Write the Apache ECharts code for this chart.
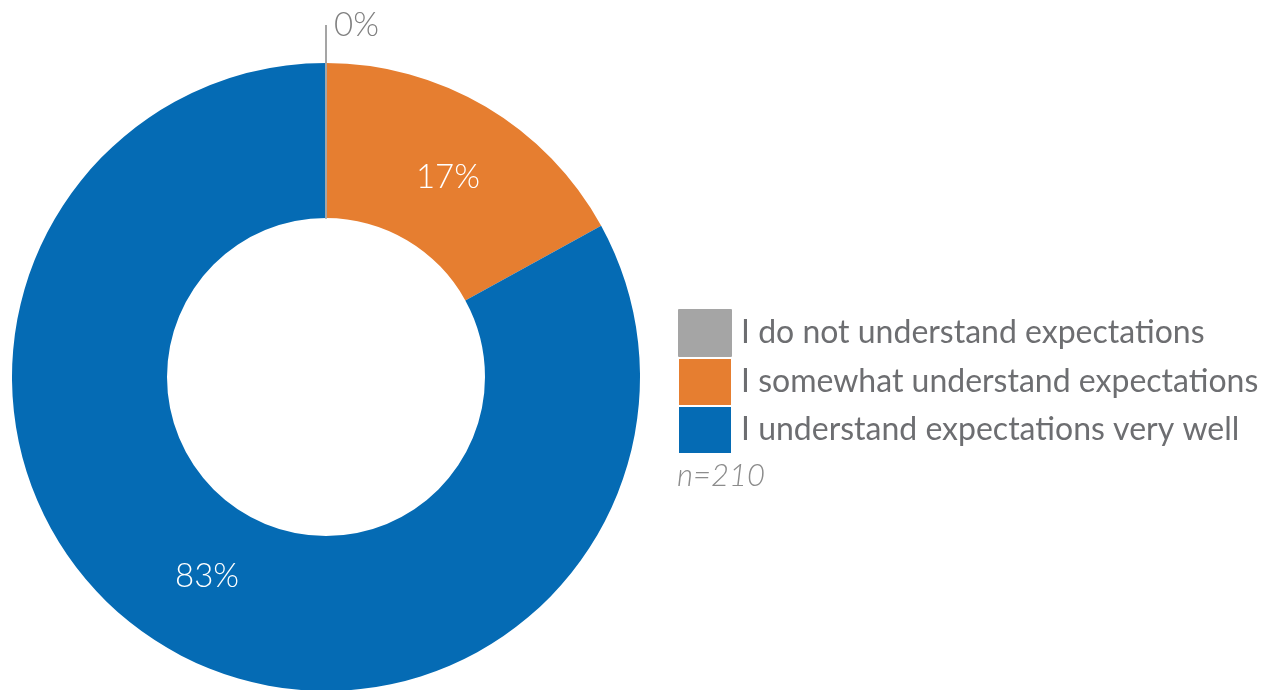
<!DOCTYPE html>
<html>
<head>
<meta charset="utf-8">
<script src="https://cdn.jsdelivr.net/npm/echarts@6/dist/echarts.min.js"></script>
<style>
html,body{margin:0;padding:0;background:#fff;}
#chart{width:1270px;height:690px;}
</style>
</head>
<body>
<div id="chart"></div>
<script>
var categories = ['I do not understand expectations', 'I somewhat understand expectations', 'I understand expectations very well'];
var values = [0, 17, 83];
var colors = ['#A5A5A5', '#E67E30', '#056BB4'];
var sampleNote = 'n=210';

var labelOffsets = [[0, 0], [0, 7], [3, -7]];
// draw the zero slice last so its thin outline sits on top (it ends where it starts, at 12 o'clock)
var drawOrder = [1, 2, 0];

var chart = echarts.init(document.getElementById('chart'));
var data = drawOrder.map(function (i) {
  var c = categories[i];
  var item = { name: c, value: values[i], itemStyle: { color: colors[i] }, label: { offset: labelOffsets[i] } };
  if (values[i] === 0) {
    item.itemStyle.borderColor = colors[i];
    item.itemStyle.borderWidth = 2;
    item.label = { position: 'outside', color: '#808080', distanceToLabelLine: 8 };
    item.labelLine = { show: true, length: 38, length2: 0, smooth: false, lineStyle: { color: colors[i], width: 2 } };
  }
  return item;
});
chart.setOption({
  animation: false,
  textStyle: { fontFamily: 'Lato' },
  legend: {
    orient: 'vertical',
    left: 678,
    top: 309,
    padding: 0,
    itemWidth: 52,
    itemHeight: 46,
    itemGap: 2,
    icon: 'rect',
    selectedMode: false,
    data: categories,
    textStyle: { fontFamily: 'Lato', fontSize: 32, color: '#6d6e71', padding: [0, 0, 0, 5] }
  },
  graphic: [{
    type: 'text',
    left: 677,
    top: 460,
    style: { text: sampleNote, font: 'italic 300 31px Lato', fill: '#8c8c8c' }
  }],
  series: [{
    type: 'pie',
    center: [326, 377],
    radius: [159, 314],
    startAngle: 90,
    clockwise: true,
    avoidLabelOverlap: false,
    minShowLabelAngle: -1,
    label: {
      show: true,
      position: 'inside',
      formatter: '{c}%',
      fontFamily: 'Lato',
      fontWeight: 300,
      fontSize: 33,
      color: '#ffffff'
    },
    labelLine: { show: false },
    emphasis: { disabled: true },
    data: data
  }]
});
</script>
</body>
</html>
